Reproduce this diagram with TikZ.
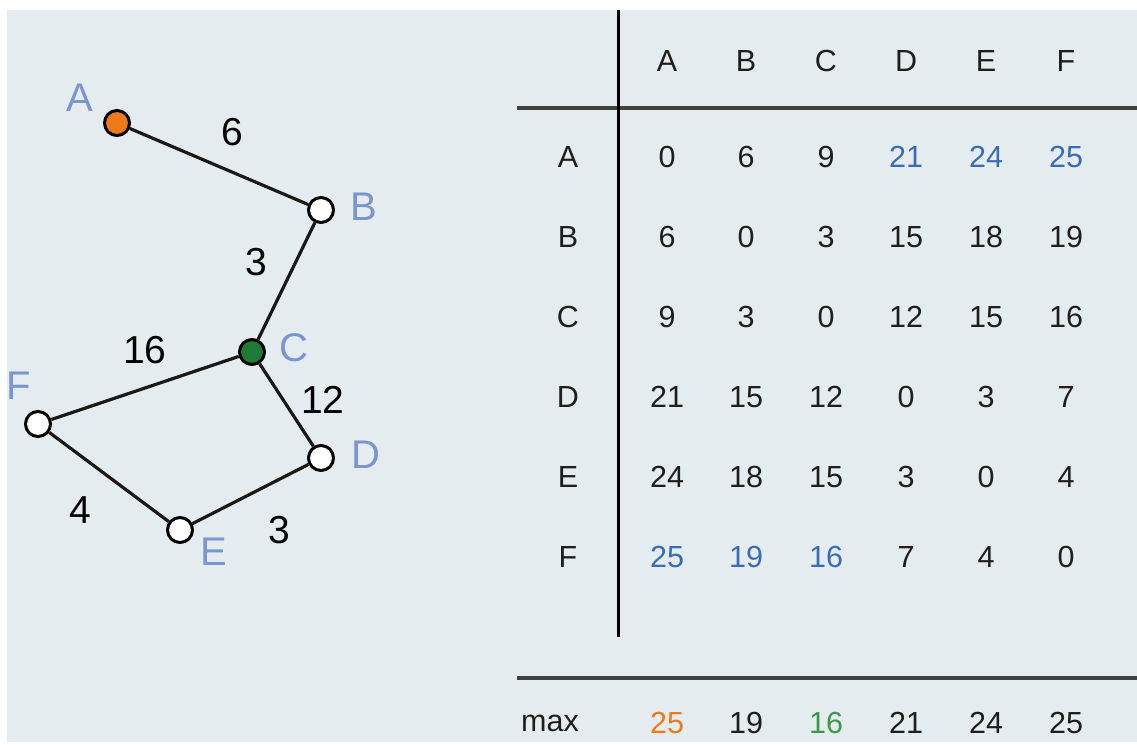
\documentclass[tikz,border=0pt]{standalone}
\usepackage{fontspec}
\setmainfont{Liberation Sans}
\definecolor{bgc}{HTML}{E4ECEF}
\definecolor{lblue}{HTML}{7B96CF}
\definecolor{tblue}{HTML}{3A6CB4}
\definecolor{orng}{HTML}{F07A1A}
\definecolor{grn}{HTML}{1E7A34}
\definecolor{tgrn}{HTML}{3A9A4A}
\definecolor{ink}{HTML}{1E1E1E}
\begin{document}
\begin{tikzpicture}[x=1pt,y=-1pt,
  vtx/.style={circle,draw=black,line width=3pt,minimum size=25pt,inner sep=0pt,fill=white},
  edge/.style={draw=black!90,line width=3.2pt},
  vlab/.style={text=lblue,font=\fontsize{40}{44}\selectfont,inner sep=0pt},
  elab/.style={text=black,font=\fontsize{39}{43}\selectfont,inner sep=0pt},
  cell/.style={text=ink,font=\fontsize{30.5}{34}\selectfont,inner sep=0pt},
  vrule/.style={draw=black,line width=3pt},
  hrule/.style={draw=black!75,line width=4.2pt}]
\useasboundingbox (0,0) rectangle (1137,744);
\fill[bgc] (7,10) rectangle (1137,742);
% graph
\node[vtx,fill=orng] (A) at (117,123) {};
\node[vtx] (B) at (321,210) {};
\node[vtx,fill=grn] (C) at (252,352) {};
\node[vtx] (D) at (321,458) {};
\node[vtx] (E) at (180,530) {};
\node[vtx] (F) at (38,424) {};
\draw[edge] (A) -- (B);
\draw[edge] (B) -- (C);
\draw[edge] (C) -- (F);
\draw[edge] (C) -- (D);
\draw[edge] (D) -- (E);
\draw[edge] (E) -- (F);
\node[vlab] (lA) at (80,98) {A};
\node[vlab] (lB) at (364,207) {B};
\node[vlab] (lC) at (294,348) {C};
\node[vlab] (lD) at (366,455) {D};
\node[vlab] (lE) at (214,552) {E};
\node[vlab] (lF) at (19,386) {F};
\node[elab] (wAB) at (232,132) {6};
\node[elab] (wBC) at (256,262) {3};
\node[elab] (wCF) at (145,350) {16};
\node[elab] (wCD) at (323,400) {12};
\node[elab] (wEF) at (80,510) {4};
\node[elab] (wDE) at (279,530) {3};
% table rules
\coordinate (vt) at (618,10);
\coordinate (vb) at (618,637);
\coordinate (h1l) at (517,108);
\coordinate (h1r) at (1137,108);
\coordinate (h2l) at (517,678);
\coordinate (h2r) at (1137,678);
\draw[hrule] (h1l) -- (h1r);
\draw[hrule] (h2l) -- (h2r);
\draw[vrule] (vt) -- (vb);
% headers
\foreach \n/\x in {A/667,B/746,C/826,D/906,E/986,F/1066}{
  \node[cell] (h\n) at (\x,61) {\n};
}
\foreach \n/\y in {A/157,B/237,C/317,D/397,E/477,F/557}{
  \node[cell] (r\n) at (568,\y) {\n};
}
% rows
\foreach \n/\y/\a/\b/\c/\d/\e/\f in {
  A/157/0/6/9/\textcolor{tblue}{21}/\textcolor{tblue}{24}/\textcolor{tblue}{25},
  B/237/6/0/3/15/18/19,
  C/317/9/3/0/12/15/16,
  D/397/21/15/12/0/3/7,
  E/477/24/18/15/3/0/4,
  F/557/\textcolor{tblue}{25}/\textcolor{tblue}{19}/\textcolor{tblue}{16}/7/4/0}{
  \node[cell] (\n-A) at (667,\y) {\a};
  \node[cell] (\n-B) at (746,\y) {\b};
  \node[cell] (\n-C) at (826,\y) {\c};
  \node[cell] (\n-D) at (906,\y) {\d};
  \node[cell] (\n-E) at (986,\y) {\e};
  \node[cell] (\n-F) at (1066,\y) {\f};
}
\node[cell] (mx) at (550,723) {max};
\node[cell,text=orng] (mA) at (667,723) {25};
\node[cell] (mB) at (746,723) {19};
\node[cell,text=tgrn] (mC) at (826,723) {16};
\node[cell] (mD) at (906,723) {21};
\node[cell] (mE) at (986,723) {24};
\node[cell] (mF) at (1066,723) {25};
\end{tikzpicture}
\end{document}
